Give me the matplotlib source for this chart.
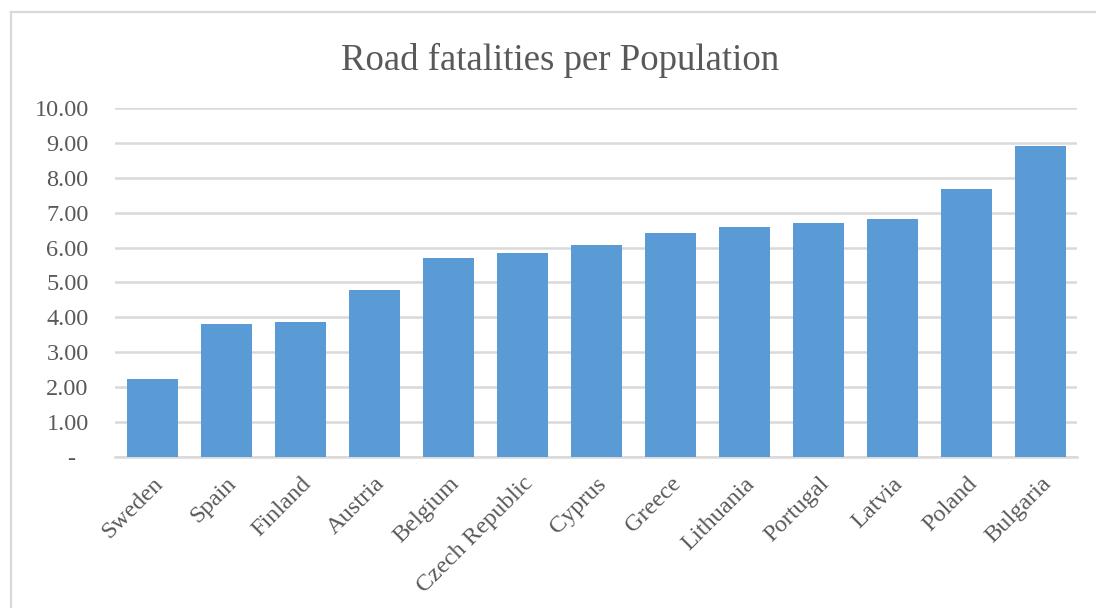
import matplotlib
matplotlib.use("Agg")
from matplotlib import pyplot as plt
from matplotlib.lines import Line2D
from matplotlib.ticker import FuncFormatter

# road fatalities per population, by country (sorted ascending)
countries = ["Sweden", "Spain", "Finland", "Austria", "Belgium", "Czech Republic",
             "Cyprus", "Greece", "Lithuania", "Portugal", "Latvia", "Poland", "Bulgaria"]
fatalities = [2.23, 3.80, 3.87, 4.77, 5.70, 5.85, 6.07, 6.42, 6.59, 6.70, 6.83, 7.69, 8.91]
yTicks = [0, 1, 2, 3, 4, 5, 6, 7, 8, 9, 10]

barColor = "#5B9BD5"
textColor = "#595959"
gridColor = "#D9D9D9"

plt.rcParams["font.family"] = ["Liberation Serif", "DejaVu Serif"]

fig = plt.figure(figsize=(10.96, 6.08), dpi=100)
ax = fig.add_axes([0.105, 0.249, 0.878, 0.573])

x = range(len(countries))
ax.bar(x, fatalities, width=0.69, color=barColor, zorder=3)

ax.set_xlim(-0.5, len(countries) - 0.5)
ax.set_ylim(0, 10)
ax.set_yticks(yTicks)


# accounting style labels: dash for zero
def fmtY(v, pos):
    if abs(v) < 1e-9:
        return "-  "
    return "%.2f" % v


ax.yaxis.set_major_formatter(FuncFormatter(fmtY))
ax.grid(axis="y", color=gridColor, linewidth=1.8, zorder=0)
for s in ["top", "right", "left"]:
    ax.spines[s].set_visible(False)
ax.spines["bottom"].set_color(gridColor)
ax.spines["bottom"].set_linewidth(1.8)

ax.tick_params(axis="y", length=0, pad=19, labelsize=17.5, labelcolor=textColor)
ax.tick_params(axis="x", length=0, pad=12, labelsize=17.5, labelcolor=textColor)
ax.set_xticks(list(x))
ax.set_xticklabels(countries, rotation=45, ha="right", rotation_mode="anchor")

fig.suptitle("Road fatalities per Population", x=0.511, y=0.93, fontsize=26.5, color=textColor)

# chart area border (left and top edges)
fig.add_artist(Line2D([11 / 1096, 11 / 1096], [0, 1 - 12 / 608], transform=fig.transFigure,
                      color=gridColor, linewidth=1.6))
fig.add_artist(Line2D([11 / 1096, 1], [1 - 12 / 608, 1 - 12 / 608], transform=fig.transFigure,
                      color=gridColor, linewidth=1.6))

fig.savefig("out.png", dpi=100)
